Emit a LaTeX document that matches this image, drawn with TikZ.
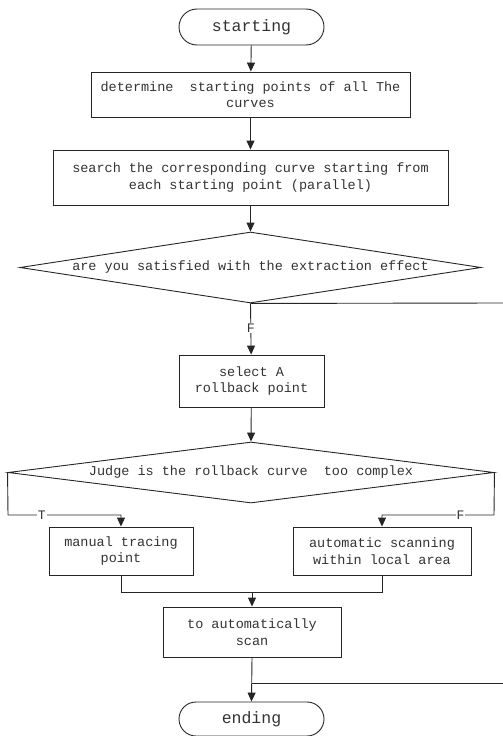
\documentclass[tikz,border=0pt]{standalone}
\usepackage{fontspec}
\newfontfamily\flowfont{Liberation Mono}
\usetikzlibrary{shapes.geometric,shapes.misc,arrows.meta}
\tikzset{
  base/.style={draw=black!85, line width=0.9pt, font=\flowfont\fontsize{13.5}{16.5}\selectfont, text=black!80, align=center, inner sep=0pt},
  term/.style={base, rounded rectangle, font=\flowfont\fontsize{16.5}{19}\selectfont},
  proc/.style={base, rectangle},
  decide/.style={base, diamond},
  conn/.style={draw=black!85, line width=0.9pt},
  arr/.style={conn, -{Triangle[length=9pt,width=8pt]}},
  lbl/.style={fill=white, inner sep=1pt, font=\flowfont\fontsize{13}{15}\selectfont, text=black!80}
}
\begin{document}
\begin{tikzpicture}[x=1pt,y=-1pt]
\useasboundingbox (0,0) rectangle (503,736);
\node[term, minimum width=145pt, minimum height=36pt] (start) at (251.5,27) {starting};
\node[proc, minimum width=319pt, minimum height=45pt] (det) at (250.5,94.5) {determine\ \ starting points of all The\\curves};
\node[proc, minimum width=395pt, minimum height=55pt] (search) at (250.5,177.5) {search the corresponding curve starting from\\each starting point (parallel)};
\node[decide, aspect=6.49, minimum width=461pt, minimum height=71pt] (d1) at (250.5,267.5) {are you satisfied with the extraction effect};
\node[proc, minimum width=145pt, minimum height=52pt] (select) at (251.5,381) {select A\\rollback point};
\node[decide, aspect=7.97, minimum width=486pt, minimum height=61pt] (d2) at (251,472.5) {Judge is the rollback curve\ \ too complex};
\node[proc, minimum width=144pt, minimum height=48pt] (manual) at (121,551) {manual tracing\\point};
\node[proc, minimum width=178pt, minimum height=48pt] (auto) at (382,551) {automatic scanning\\within local area};
\node[proc, minimum width=178pt, minimum height=50pt] (toauto) at (252,632) {to automatically\\scan};
\node[term, minimum width=145pt, minimum height=34pt] (ending) at (251.5,719) {ending};

\coordinate (r1) at (503,303);
\coordinate (r2) at (503,683);
\coordinate (lt) at (8,515);
\coordinate (rt) at (494,515);
\coordinate (merge) at (252,592);

\draw[arr] (start) -- (det);
\draw[arr] (det) -- (search);
\draw[arr] (search) -- (d1.north);
\draw[arr] (d1.south) -- node[lbl, pos=0.48] {F} (select);
\draw[conn] (d1.south) -- (r1);
\draw[arr] (select) -- (d2.north);
\draw[arr] (d2.west) -- (lt) -- node[lbl, pos=0.3] {T} (lt -| manual.north) -- (manual.north);
\draw[arr] (d2.east) -- (rt) -- node[lbl, pos=0.3] {F} (rt -| auto.north) -- (auto.north);
\draw[conn] (manual.south) -- (manual.south |- merge) -- (auto.south |- merge) -- (auto.south);
\draw[arr] (merge) -- (toauto.north);
\draw[arr] (toauto.south) -- (ending.north);
\draw[conn] (r2) -- (ending.north |- r2);
\end{tikzpicture}
\end{document}
